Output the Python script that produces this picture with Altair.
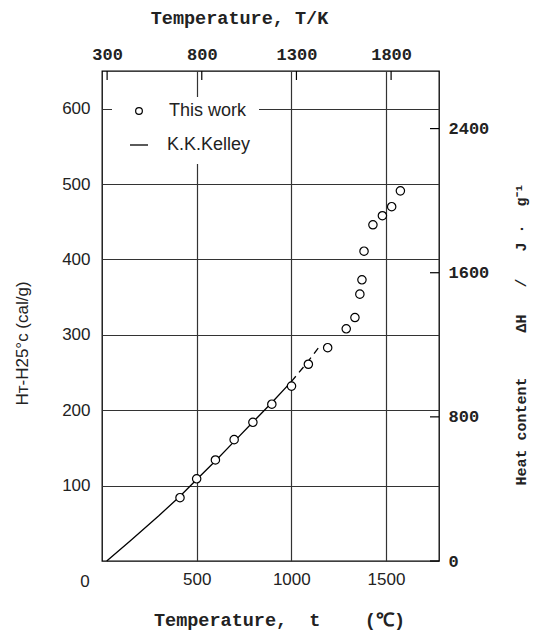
import altair as alt
import pandas as pd

# ---- data ----
this_t = [412, 500, 599, 698, 797, 897, 1001, 1090, 1192, 1290, 1336, 1362, 1373, 1384, 1431, 1481, 1530, 1576]
this_h = [84, 109, 134, 161, 184, 208, 232, 261, 283, 308, 323, 354, 373, 411, 446, 458, 470, 491]

kelley_solid_t = [25, 150, 300, 412, 500, 600, 700, 800, 900, 1000]
kelley_solid_h = [0, 27, 60, 86, 108, 133, 159, 185, 211, 238]
kelley_dash_t = [1000, 1060, 1120, 1155]
kelley_dash_h = [238, 256, 275, 287]

x_ticks_c = [500, 1000, 1500]
y_ticks_cal = [100, 200, 300, 400, 500, 600]
top_ticks_k = [300, 800, 1300, 1800]
right_ticks_j = [0, 800, 1600, 2400]

X_MAX = 1780
Y_MAX = 650
CAL_TO_J = 4.184

W, H = 337, 490
NB = "\u00a0"

pts = pd.DataFrame({"t": this_t, "h": this_h})
ks = pd.DataFrame({"t": kelley_solid_t, "h": kelley_solid_h})
kd = pd.DataFrame({"t": kelley_dash_t, "h": kelley_dash_h})
top_df = pd.DataFrame({"K": top_ticks_k})
right_df = pd.DataFrame({"J": right_ticks_j})
one = pd.DataFrame({"a": [0]})
origin = pd.DataFrame({"t": [0], "h": [0], "lab": ["0"]})

SANS = "Liberation Sans"
MONO = "Liberation Mono"

xscale = alt.Scale(domain=[0, X_MAX], nice=False, zero=False)
yscale = alt.Scale(domain=[0, Y_MAX], nice=False, zero=False)

bottom_title = "Temperature," + NB * 2 + "t" + NB * 4 + "(℃)"
right_title = ("Heat" + NB + "content" + NB * 5 + "ΔH" + NB * 3 + "/" + NB * 3 + "J"
               + NB + "·" + NB * 2 + "g⁻¹")

xaxis = alt.Axis(values=x_ticks_c, format="d", grid=True, ticks=False, domain=False,
                 labelFont=SANS, labelFontSize=17, labelColor="#222", labelPadding=10,
                 gridColor="#333", gridWidth=1.2,
                 title=bottom_title, titleFont=MONO, titleFontSize=18.5,
                 titleFontWeight="bold", titleColor="#222",
                 titleX=177, titleY=58, titleAlign="center", titleBaseline="middle")
yaxis = alt.Axis(values=y_ticks_cal, format="d", grid=True, ticks=False, domain=False,
                 labelFont=SANS, labelFontSize=17, labelColor="#222", labelPadding=12,
                 gridColor="#333", gridWidth=1.2,
                 title="Hт-H25°c" + NB + "(cal/g)", titleFont=SANS, titleFontSize=17,
                 titleFontWeight="normal", titleColor="#222",
                 titleX=-80, titleY=272, titleAngle=270, titleAlign="center",
                 titleBaseline="middle")

X = alt.X("t:Q", scale=xscale, axis=xaxis)
Y = alt.Y("h:Q", scale=yscale, axis=yaxis)

bg = alt.Chart(one).mark_rect(color="white").encode(
    x=alt.value(10), x2=alt.value(157), y=alt.value(26), y2=alt.value(93))

line_solid = alt.Chart(ks).mark_line(color="black", strokeWidth=1.3).encode(x=X, y=Y)
line_dash = alt.Chart(kd).mark_line(color="black", strokeWidth=1.3, strokeDash=[7, 5]).encode(x=X, y=Y)
points = alt.Chart(pts).mark_point(shape="circle", size=70, fill="white", filled=False,
                                   stroke="black", strokeWidth=1.2, opacity=1).encode(x=X, y=Y)

zero_lab = alt.Chart(origin).mark_text(font=SANS, fontSize=17, color="#222", dx=-17, dy=21).encode(
    x=X, y=Y, text="lab:N")

leg_pt = alt.Chart(one).mark_point(shape="circle", size=45, fill="white", filled=False,
                                   stroke="black", strokeWidth=1.2, opacity=1).encode(
    x=alt.value(37), y=alt.value(40))
leg_line = alt.Chart(one).mark_rule(color="black", strokeWidth=1.3).encode(
    x=alt.value(28), x2=alt.value(46), y=alt.value(74))
leg_t1 = alt.Chart(one).mark_text(text="This work", font=SANS, fontSize=18, align="left",
                                  baseline="middle", color="#222").encode(
    x=alt.value(67), y=alt.value(40))
leg_t2 = alt.Chart(one).mark_text(text="K.K.Kelley", font=SANS, fontSize=18, align="left",
                                  baseline="middle", color="#222").encode(
    x=alt.value(65), y=alt.value(74))

main = alt.layer(bg, line_solid, line_dash, points, zero_lab, leg_pt, leg_line, leg_t1, leg_t2)

top = alt.Chart(top_df).mark_rule(color="black", strokeWidth=1.2).encode(
    x=alt.X("K:Q", scale=alt.Scale(domain=[273, X_MAX + 273], nice=False, zero=False),
            axis=alt.Axis(orient="top", values=top_ticks_k, format="d", grid=False, ticks=False,
                          domain=False,
                          labelFont=MONO, labelFontSize=17, labelFontWeight="bold",
                          labelColor="#222", labelPadding=8,
                          title="Temperature," + NB + "T/K", titleFont=MONO, titleFontSize=18.5,
                          titleFontWeight="bold", titleColor="#222",
                          titleX=137, titleY=-54, titleAlign="center", titleBaseline="middle")),
    y=alt.value(0), y2=alt.value(9))

right = alt.Chart(right_df).mark_rule(color="black", strokeWidth=1.2).encode(
    y=alt.Y("J:Q", scale=alt.Scale(domain=[0, Y_MAX * CAL_TO_J], nice=False, zero=False),
            axis=alt.Axis(orient="right", values=right_ticks_j, format="d", grid=False, ticks=False,
                          domain=False,
                          labelFont=MONO, labelFontSize=17, labelFontWeight="bold",
                          labelColor="#222", labelPadding=9,
                          title=right_title, titleFont=MONO,
                          titleFontSize=15, titleFontWeight="bold", titleColor="#222",
                          titleX=81, titleY=263, titleAngle=270, titleAlign="center",
                          titleBaseline="middle")),
    x=alt.value(W - 9), x2=alt.value(W))

chart = alt.layer(main, top, right).resolve_scale(
    x="independent", y="independent"
).properties(
    width=W, height=H,
    padding={"left": 5, "top": 0, "right": 5, "bottom": 5},
    background="white",
).configure_view(stroke="black", strokeWidth=1.3)

chart.save("out.html", embed_options={"renderer": "svg", "actions": False})
